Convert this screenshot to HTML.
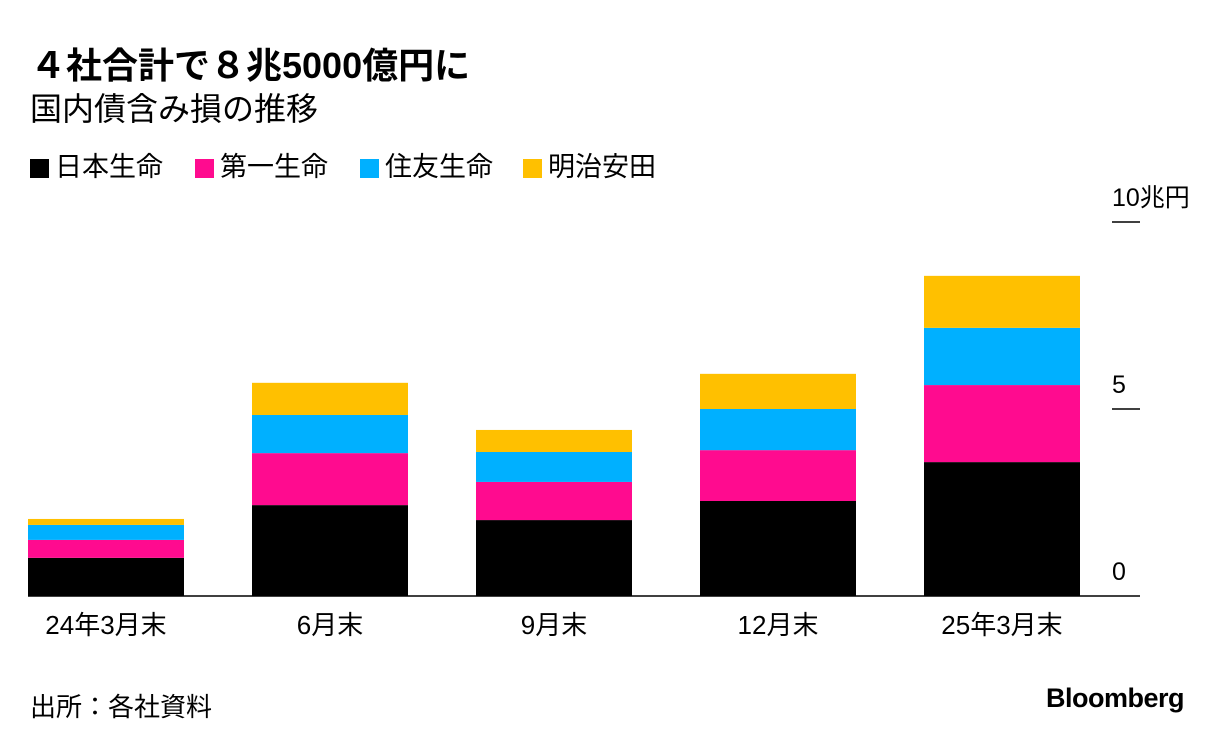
<!DOCTYPE html>
<html><head><meta charset="utf-8"><style>
body{margin:0;background:#fff;width:1223px;height:744px;overflow:hidden;font-family:"Liberation Sans","Noto Sans CJK JP",sans-serif;color:#000}
.t{position:absolute;white-space:nowrap}
.lg{position:absolute;top:0}
.sw{display:inline-block;width:19px;height:19px;vertical-align:-2px;margin-right:6px}
</style></head><body>
<div class="t" style="left:30px;top:37px;font-size:36px;font-weight:bold">４社合計で８兆5000億円に</div>
<div class="t" style="left:30px;top:84px;font-size:32px">国内債含み損の推移</div>
<div class="t" style="left:30px;top:145px;font-size:27px;width:700px;height:40px">
<span class="lg" style="left:0"><span class="sw" style="background:#000"></span>日本生命</span>
<span class="lg" style="left:165px"><span class="sw" style="background:#ff0b8f"></span>第一生命</span>
<span class="lg" style="left:330px"><span class="sw" style="background:#00b0ff"></span>住友生命</span>
<span class="lg" style="left:493px"><span class="sw" style="background:#ffc000"></span>明治安田</span>
</div>
<svg id="c" width="1223" height="744" style="position:absolute;left:0;top:0"></svg>
<div class="t" style="left:30px;top:687px;font-size:26px">出所：各社資料</div>
<div class="t" style="left:1046px;top:683px;font-size:27px;font-weight:bold;letter-spacing:-0.5px">Bloomberg</div>
<script>
const categories=["24年3月末","6月末","9月末","12月末","25年3月末"];
const nissay=[1.02,2.43,2.03,2.54,3.58];
const daiichi=[0.48,1.39,1.02,1.36,2.06];
const sumitomo=[0.40,1.02,0.80,1.10,1.53];
const meiji=[0.16,0.86,0.59,0.94,1.39];
const tickValues=[0,5,10];
const tickLabels=["0","5","10兆円"];
const series=[nissay,daiichi,sumitomo,meiji];
const colors=["#000","#ff0b8f","#00b0ff","#ffc000"];
const names=["nissay","daiichi","sumitomo","meiji"];
const svg=document.getElementById('c');
const NS="http://www.w3.org/2000/svg";
const y=v=>596-v*37.4;
const x=i=>28+i*224;
const bw=156;
const FF='"Liberation Sans","Noto Sans CJK JP",sans-serif';
function mk(t,a){const e=document.createElementNS(NS,t);for(const k in a)e.setAttribute(k,a[k]);svg.appendChild(e);return e;}
categories.forEach((c,i)=>{
  let acc=0;
  series.forEach((s,j)=>{
    const r=mk('rect',{x:x(i),y:y(acc+s[i]),width:bw,height:s[i]*37.4,fill:colors[j]});
    
    
    acc+=s[i];
  });
  const t=mk('text',{x:x(i)+bw/2,y:634,'text-anchor':'middle','font-size':26,'font-family':FF});
  t.textContent=c;
  
  
});
const ax=mk('line',{x1:28,x2:1140,y1:596,y2:596,stroke:'#000','stroke-width':1.5});


tickValues.forEach((v,i)=>{
  if(v>0){const l=mk('line',{x1:1112,x2:1140,y1:y(v),y2:y(v),stroke:'#000','stroke-width':1.5});
  
  }
  const t=mk('text',{x:1112,y:y(v)-16,'font-size':25,'font-family':FF});
  t.textContent=tickLabels[i];
  
  
});
</script>
</body></html>
